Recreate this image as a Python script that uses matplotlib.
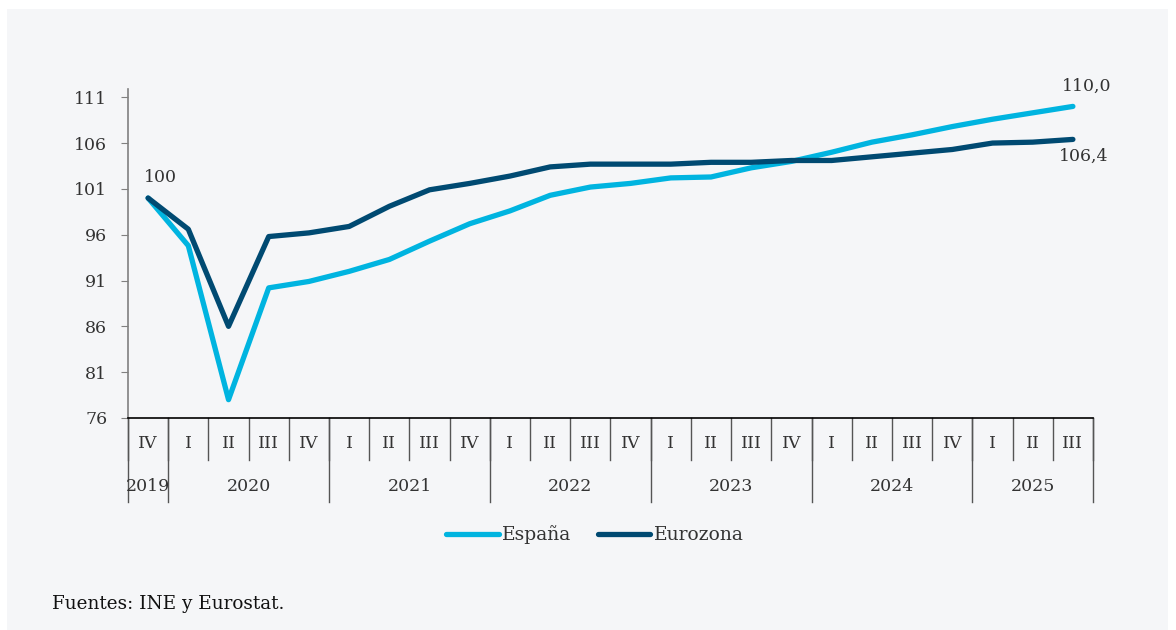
import matplotlib.pyplot as plt
from matplotlib.patches import Rectangle

# datos: índice 2019 IV = 100
quarters = ["IV",
            "I", "II", "III", "IV",
            "I", "II", "III", "IV",
            "I", "II", "III", "IV",
            "I", "II", "III", "IV",
            "I", "II", "III", "IV",
            "I", "II", "III"]
years = ["2019", "2020", "2021", "2022", "2023", "2024", "2025"]
year_quarters = [1, 4, 4, 4, 4, 4, 3]

espana = [100, 94.8, 78.0, 90.2, 90.9, 92.0, 93.3, 95.3, 97.2,
          98.6, 100.3, 101.2, 101.6, 102.2, 102.3, 103.3, 104.0,
          105.0, 106.1, 106.9, 107.8, 108.6, 109.3, 110.0]
eurozona = [100, 96.6, 86.0, 95.8, 96.2, 96.9, 99.1, 100.9, 101.6,
            102.4, 103.4, 103.7, 103.7, 103.7, 103.9, 103.9, 104.1,
            104.1, 104.5, 104.9, 105.3, 106.0, 106.1, 106.4]

yticks = [76, 81, 86, 91, 96, 101, 106, 111]

c_esp = "#00b4e0"
c_eur = "#004a72"
txt = "#333333"
plt.rcParams["font.family"] = ["DejaVu Serif"]

fig = plt.figure(figsize=(11.76, 6.3), dpi=100)
fig.patch.set_facecolor("white")
fig.patches.append(Rectangle((7 / 1176, 0), 1161 / 1176, 621 / 630,
                             transform=fig.transFigure, facecolor="#f5f6f8",
                             edgecolor="none", zorder=-10))

ax = fig.add_axes([128 / 1176, 1 - 418 / 630, 965 / 1176, 329 / 630])
ax.set_facecolor("none")

x = list(range(len(quarters)))
ax.plot(x, espana, color=c_esp, lw=3.8, solid_capstyle="round",
        solid_joinstyle="round", label="España", zorder=3)
ax.plot(x, eurozona, color=c_eur, lw=3.8, solid_capstyle="round",
        solid_joinstyle="round", label="Eurozona", zorder=4)

ax.set_xlim(-0.5, len(quarters) - 0.5)
ax.set_ylim(76, 111.9)
ax.set_yticks(yticks)
ax.set_yticklabels([str(v) for v in yticks], fontsize=12.5, color=txt)
ax.tick_params(axis="y", length=5, color="#808080", pad=10)
ax.set_xticks([])

for s in ["top", "right"]:
    ax.spines[s].set_visible(False)
ax.spines["left"].set_color("#808080")
ax.spines["left"].set_linewidth(1.2)
ax.spines["bottom"].set_color("black")
ax.spines["bottom"].set_linewidth(1.2)

# eje de categorías en dos niveles
tr = ax.get_xaxis_transform()
for i, q in enumerate(quarters):
    ax.text(i, -0.076, q, transform=tr, ha="center", va="center",
            fontsize=12.5, color=txt)
for i in range(len(quarters) + 1):
    ax.plot([i - 0.5, i - 0.5], [0, -0.128], transform=tr, color="#555555",
            lw=1, clip_on=False)
start = 0
for y, n in zip(years, year_quarters):
    ax.plot([start - 0.5, start - 0.5], [0, -0.255], transform=tr,
            color="#555555", lw=1, clip_on=False)
    ax.text(start - 0.5 + n / 2, -0.207, y, transform=tr, ha="center",
            va="center", fontsize=12.5, color=txt)
    start += n
ax.plot([start - 0.5, start - 0.5], [0, -0.255], transform=tr,
        color="#555555", lw=1, clip_on=False)

# etiquetas de datos
ax.annotate("100", (0, espana[0]), xytext=(-3, 9), textcoords="offset points",
            ha="left", va="bottom", fontsize=12.5, color=txt)
ax.annotate(f"{espana[-1]:.1f}".replace(".", ","), (x[-1], espana[-1]),
            xytext=(10, 8), textcoords="offset points", ha="center",
            va="bottom", fontsize=12.5, color=txt)
ax.annotate(f"{eurozona[-1]:.1f}".replace(".", ","), (x[-1], eurozona[-1]),
            xytext=(8, -6), textcoords="offset points", ha="center",
            va="top", fontsize=12.5, color=txt)

fig.legend(loc="center", bbox_to_anchor=(595 / 1176, 1 - 535 / 630), ncol=2,
           frameon=False, fontsize=13.5, handlelength=2.8, handletextpad=0.2,
           columnspacing=1.4, labelcolor=txt)

fig.text(52 / 1176, 1 - 604 / 630, "Fuentes: INE y Eurostat.", fontsize=13.2,
         color="#111111", ha="left", va="center")

fig.savefig("out.png", dpi=100)
